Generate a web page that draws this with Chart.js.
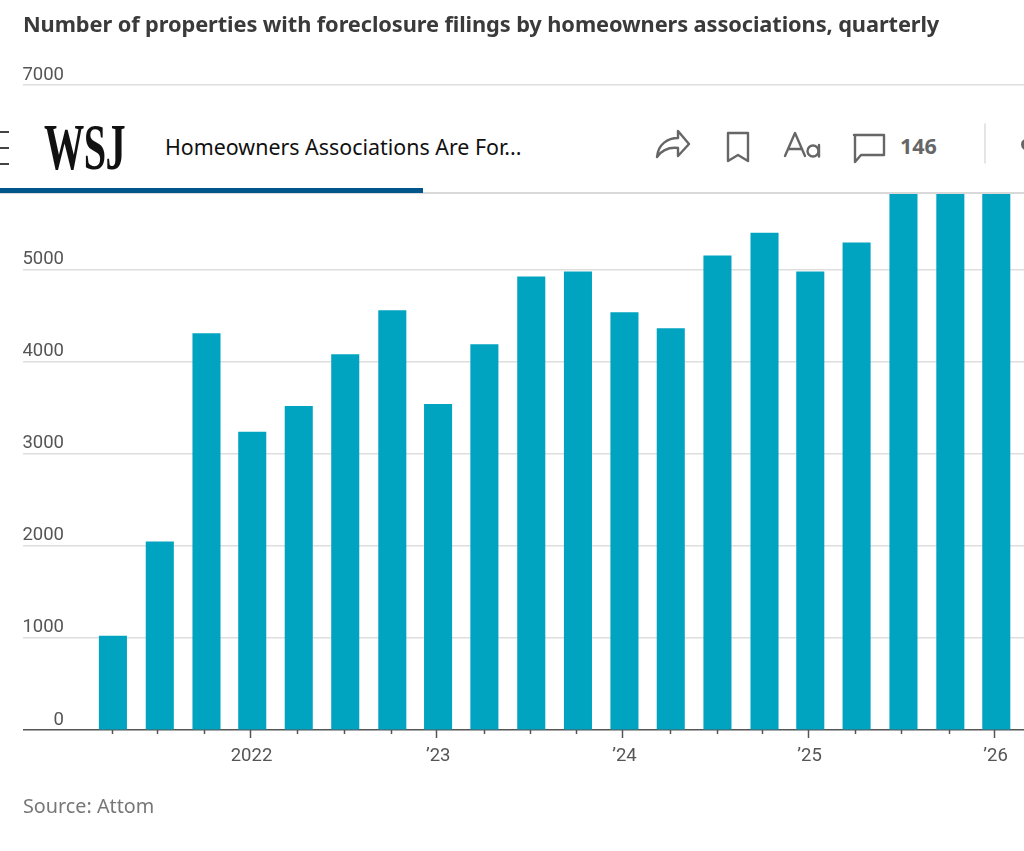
<!DOCTYPE html>
<html><head><meta charset="utf-8">
<script src="https://cdn.jsdelivr.net/npm/chart.js@4"></script>
<style>
html,body{margin:0;padding:0;background:#fff;width:1024px;height:851px;overflow:hidden}
#wrap{position:relative;width:1024px;height:851px;font-family:"Noto Sans",sans-serif}
canvas{position:absolute;left:0;top:0}
.t{position:absolute;white-space:nowrap}
#title{left:23px;top:9px;font-size:21.8px;font-weight:700;color:#3a3a3a;letter-spacing:-.1px}
#source{left:23px;top:792px;font-size:19.8px;color:#777}
#hdr{position:absolute;left:0;top:96px;width:1024px;height:98px;background:#fff;z-index:5}
#hdr .line{position:absolute;left:0;right:0;top:96px;height:2px;background:#d9d9d9}
#hdr .prog{position:absolute;left:0;width:423px;top:92px;height:5px;background:#00568a}
#hdr .b{position:absolute;left:0;width:9px;height:2px;background:#444}
#logo{left:44px;top:20px;font-family:"Liberation Serif",serif;font-weight:700;font-size:66px;line-height:62px;color:#111;transform-origin:0 0;transform:scaleX(.61);letter-spacing:-1px}
#head{left:165px;top:37px;font-size:21.4px;color:#111;line-height:28px}
#cnt{left:900px;top:36px;font-size:21.5px;font-weight:700;color:#666;line-height:28px}
#hdr svg{position:absolute;left:0;top:0}
</style></head><body>
<div id="wrap">
<canvas id="c" width="1024" height="851"></canvas>
<div class="t" id="title">Number of properties with foreclosure filings by homeowners associations, quarterly</div>
<div class="t" id="source">Source: Attom</div>
<div id="hdr">
 <div class="b" style="top:35px"></div><div class="b" style="top:51px"></div><div class="b" style="top:67px"></div>
 <div class="t" id="logo">WSJ</div>
 <div class="t" id="head">Homeowners Associations Are For...</div>
 <div class="t" id="cnt">146</div>
 <svg width="1024" height="97" fill="none" stroke="#666" stroke-width="2.4" stroke-linejoin="round" stroke-linecap="round">
  <path d="M657 61 C658 48 668 42 678 42 L678 35 L689 48 L678 60 L678 52 C669 51 662 54 657 61 Z"/>
  <path d="M728 37 H748 V65 L738 59 L728 65 Z"/>
  <path d="M785 60 L795 37 L805 60 M788.5 53 H801.5"/>
  <circle cx="813" cy="55" r="5.5"/><path d="M819 49 V60.5"/>
  <path d="M854 39 H884 V59 H861 L855 66 V39 Z"/>
  <path d="M985 28 V67" stroke="#ddd" stroke-width="1.5"/>
  <path d="M1024 45 C1022 46 1022 50 1024 52" stroke-width="3"/>
 </svg>
 <div class="line"></div><div class="prog"></div>
</div>
</div>
<script>
const barPositions = [2021.263,2021.515,2021.766,2022.012,2022.262,2022.512,2022.765,2023.011,2023.260,2023.512,2023.763,2024.013,2024.262,2024.513,2024.766,2025.012,2025.261,2025.513,2025.765,2026.012];
const filings = [1020,2042,4302,3232,3513,4075,4551,3534,4183,4918,4972,4529,4356,5145,5394,4972,5286,6300,6100,6200];
const minorTicks = [2021.262,2021.505,2021.758,2022.254,2022.507,2022.761,2023.258,2023.509,2023.753,2024.258,2024.512,2024.756,2025.253,2025.505,2025.758];
const majorTicks = [2022,2023.004,2024.005,2025,2026];
const majorLabels = ['2022','’23','’24','’25','’26'];
const yTicks = [0,1000,2000,3000,4000,5000,6000,7000];
const barColor = '#00a4c0';
const inkColor = '#555';
const gridColor = '#dedede';

function fixedTicks(values){ return s => { s.ticks = values.map(v => ({value:v})); }; }

new Chart(document.getElementById('c'), {
  type:'bar',
  data:{datasets:[{data:barPositions.map((x,i)=>({x,y:filings[i]})),backgroundColor:barColor,barThickness:27.4,borderWidth:0}]},
  options:{
    responsive:false,animation:false,
    layout:{padding:{left:23,right:0,top:85,bottom:121-40}},
    plugins:{legend:{display:false},tooltip:{enabled:false}},
    scales:{
      x:{type:'linear',min:2021,max:2026.161,offset:false,position:{y:0},
        afterBuildTicks:fixedTicks(minorTicks),
        grid:{offset:false,drawOnChartArea:false,drawTicks:true,tickLength:4,tickColor:inkColor,tickWidth:1.5},
        border:{display:false},
        ticks:{display:false}},
      xMajor:{type:'linear',axis:'x',min:2021,max:2026.161,offset:false,position:'bottom',
        afterBuildTicks:fixedTicks(majorTicks),
        afterFit:s=>{s.height=40;},
        grid:{offset:false,drawOnChartArea:false,drawTicks:true,tickLength:8,tickColor:inkColor,tickWidth:1.5},
        border:{display:false},
        ticks:{autoSkip:false,maxRotation:0,padding:7,labelOffset:1.5,color:inkColor,font:{family:'Roboto',size:18.5},
          callback:v=>majorLabels[majorTicks.indexOf(v)]}},
      y:{type:'linear',min:0,max:7000,position:'left',
        afterBuildTicks:fixedTicks(yTicks),
        afterFit:s=>{s.width=41;},
        grid:{drawTicks:true,tickLength:41,lineWidth:1.5,tickWidth:1.5,
          color:c=>c.tick.value===0?inkColor:gridColor,
          tickColor:c=>c.tick.value===0?inkColor:gridColor},
        border:{display:false},
        ticks:{autoSkip:false,padding:-41,labelOffset:-10,color:inkColor,font:{family:'Roboto',size:18.5},
          callback:v=>String(v)}}
    }
  }
});
</script>
</body></html>
